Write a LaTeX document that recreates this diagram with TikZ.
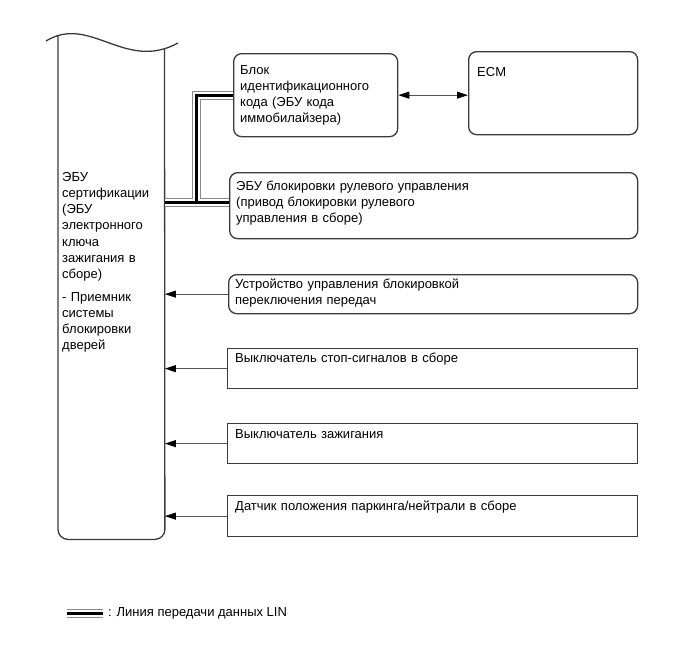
\documentclass[tikz,border=0pt]{standalone}
\usepackage{fontspec}
\setmainfont{Liberation Sans}
\usetikzlibrary{positioning, arrows.meta}
\definecolor{frame}{HTML}{3a3a3a}
\definecolor{wire}{HTML}{555555}
\definecolor{linedge}{HTML}{8a8a8a}

\begin{document}
\begin{tikzpicture}[x=1pt, y=-1pt,
  every node/.style={font=\fontsize{13pt}{16.3pt}\selectfont, inner sep=0pt},
  unit/.style={draw=frame, line width=1.3pt, rounded corners=8pt, anchor=north west},
  plain/.style={draw=frame, line width=1.3pt, anchor=north west},
  txt/.style={anchor=base west, align=left, text width=#1},
  txt/.default=395pt,
  sig/.style={draw=wire, line width=0.9pt, -{Triangle[length=11pt, width=7pt, color=black]}},
  lin/.style={draw=black, line width=3pt,
    preaction={draw=white, line width=7pt,
      preaction={draw=linedge, line width=9pt}}}]
\useasboundingbox (0,0) rectangle (689,659);

% certification ECU (open top)
\node[minimum width=106.5pt, minimum height=495pt, anchor=north west] (ecu) at (58,44) {};
\draw[frame, line width=1.3pt] (46,41) .. controls (90,14) and (125,72) .. (178,43);
\draw[frame, line width=1.3pt, rounded corners=10pt]
  (58,35) -- (ecu.south west) -- (ecu.south east) -- (164.5,48);
\node[txt=100pt] (ecutxt) at (62,181)
  {ЭБУ\\сертификации\\(ЭБУ\\электронного\\ключа\\зажигания в\\сборе)};
\node[txt=100pt] (ecunote) at (62,301)
  {- Приемник\\системы\\блокировки\\дверей};

% units on the right
\node[unit, minimum width=164pt, minimum height=83pt] (idbox) at (233,53) {};
\node[txt=155pt] (idtxt) at (240,74) {Блок\\идентификационного\\кода (ЭБУ кода\\иммобилайзера)};
\node[unit, minimum width=169pt, minimum height=83pt] (ecm) at (468,51) {};
\node[txt=150pt] (ecmtxt) at (477,76) {ECM};
\node[unit, minimum width=408pt, minimum height=66pt] (steer) at (229,172) {};
\node[txt] (steertxt) at (236,190) {ЭБУ блокировки рулевого управления\\(привод блокировки рулевого\\управления в сборе)};
\node[unit, minimum width=409pt, minimum height=39pt] (shift) at (228,274) {};
\node[txt] (shifttxt) at (235,288) {Устройство управления блокировкой\\переключения передач};
\node[plain, minimum width=410pt, minimum height=40pt] (stop) at (227,348) {};
\node[txt] (stoptxt) at (235,362) {Выключатель стоп-сигналов в сборе};
\node[plain, minimum width=410pt, minimum height=40pt] (ign) at (227,423) {};
\node[txt] (igntxt) at (235,438) {Выключатель зажигания};
\node[plain, minimum width=410pt, minimum height=41pt] (park) at (227,495) {};
\node[txt] (parktxt) at (235,510) {Датчик положения паркинга/нейтрали в сборе};

% connections
\draw[draw=wire, line width=0.9pt,
  {Triangle[length=11pt, width=7pt, color=black]}-{Triangle[length=11pt, width=7pt, color=black]}]
  (idbox.east) -- (idbox.east -| ecm.west);
\foreach \b in {shift, stop, ign, park}
  \draw[sig] (\b.west) -- (\b.west -| ecu.east);

% LIN bus
\coordinate (tee) at (196,202);
\path[lin] (tee -| ecu.east) -- (tee -| steer.west) (tee) |- (idbox.west);

% legend
\node[anchor=west] (legtxt) at (108,613) {: Линия передачи данных LIN};
\path[lin] ([xshift=-41pt]legtxt.west) -- ([xshift=-5pt]legtxt.west);
\end{tikzpicture}
\end{document}
